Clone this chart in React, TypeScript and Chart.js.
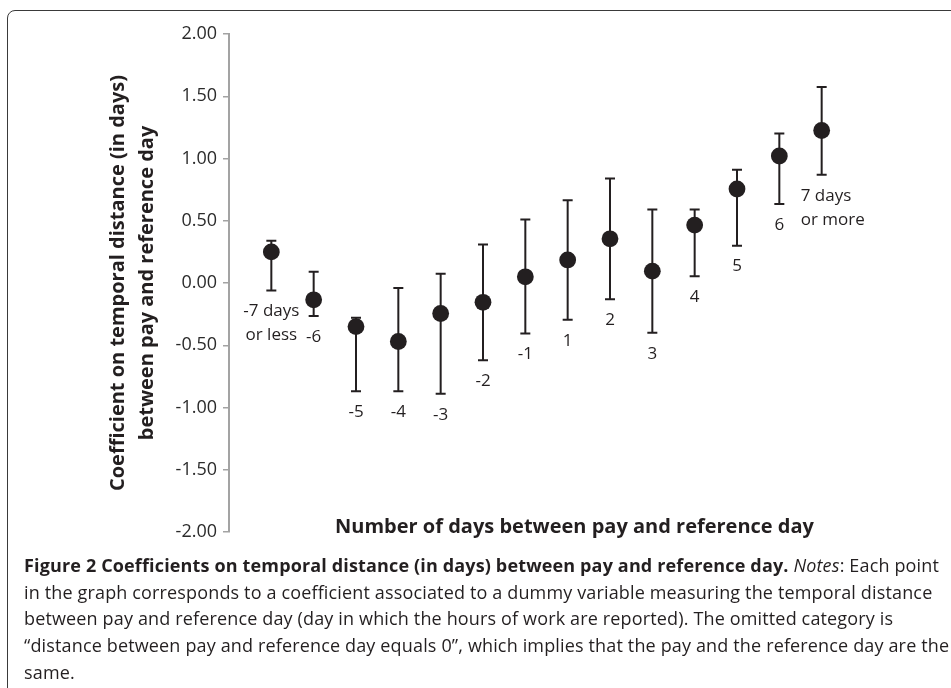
import React, { useEffect, useRef } from "react";
import { Chart, registerables } from "chart.js";

Chart.register(...registerables);

// ---- Data ----
const categories: string[] = [
  "-7 days\nor less", "-6", "-5", "-4", "-3", "-2", "-1",
  "1", "2", "3", "4", "5", "6", "7 days\nor more",
];
const coefficients: number[] = [
  0.25, -0.135, -0.35, -0.47, -0.245, -0.155, 0.05,
  0.185, 0.355, 0.095, 0.465, 0.755, 1.02, 1.225,
];
const upperBounds: number[] = [
  0.34, 0.09, -0.28, -0.04, 0.075, 0.31, 0.51,
  0.665, 0.84, 0.59, 0.59, 0.91, 1.2, 1.575,
];
const lowerBounds: number[] = [
  -0.06, -0.265, -0.87, -0.87, -0.89, -0.62, -0.405,
  -0.295, -0.13, -0.4, 0.055, 0.3, 0.635, 0.87,
];
const yTickValues: number[] = [-2, -1.5, -1, -0.5, 0, 0.5, 1, 1.5, 2];

const yTitleLines: string[] = [
  "Coefficient on temporal distance (in days)",
  "between pay and reference day",
];
const xTitle = "Number of days between pay and reference day";

const INK = "#231f20";
const FONT = "'Open Sans', 'DejaVu Sans', sans-serif";

const annotatePlugin = {
  id: "annotate",
  beforeDatasetsDraw(chart: any) {
    const { ctx, scales } = chart;
    const x = scales.x;
    const y = scales.y;
    ctx.save();
    ctx.strokeStyle = INK;
    ctx.lineWidth = 2;
    coefficients.forEach((_, i) => {
      const px = x.getPixelForValue(i + 1);
      const top = y.getPixelForValue(upperBounds[i]);
      const bot = y.getPixelForValue(lowerBounds[i]);
      ctx.beginPath();
      ctx.moveTo(px, top);
      ctx.lineTo(px, bot);
      ctx.moveTo(px - 5, top);
      ctx.lineTo(px + 5, top);
      ctx.moveTo(px - 5, bot);
      ctx.lineTo(px + 5, bot);
      ctx.stroke();
    });
    ctx.restore();
  },
  afterDatasetsDraw(chart: any) {
    const { ctx, scales, chartArea } = chart;
    const x = scales.x;
    const y = scales.y;
    ctx.save();
    ctx.fillStyle = INK;
    ctx.textBaseline = "middle";
    ctx.font = `17px ${FONT}`;
    categories.forEach((label, i) => {
      const px = x.getPixelForValue(i + 1);
      const bot = y.getPixelForValue(lowerBounds[i]);
      const lines = label.split("\n");
      const last = i === categories.length - 1 && lines.length > 1;
      ctx.textAlign = last ? "left" : "center";
      const lx = last ? px - 21 : px;
      lines.forEach((ln, j) => {
        ctx.fillText(ln, lx, bot + 21 + j * 24);
      });
    });

    // y-axis title (two rotated lines)
    const cy = (chartArea.top + chartArea.bottom) / 2;
    ctx.font = `bold 20px ${FONT}`;
    ctx.textAlign = "center";
    const offsets = [-111, -82];
    yTitleLines.forEach((ln, j) => {
      ctx.save();
      ctx.translate(chartArea.left + offsets[j], cy);
      ctx.rotate(-Math.PI / 2);
      ctx.fillText(ln, 0, 0);
      ctx.restore();
    });

    // x-axis title
    ctx.font = `bold 20px ${FONT}`;
    ctx.fillText(xTitle, (chartArea.left + chartArea.right) / 2 + 28, chartArea.bottom - 5);
    ctx.restore();
  },
};

function ChartCanvas() {
  const ref = useRef<HTMLCanvasElement | null>(null);
  useEffect(() => {
    if (!ref.current) return;
    const chart = new Chart(ref.current, {
      type: "scatter",
      data: {
        datasets: [
          {
            label: "Coefficient",
            data: coefficients.map((v, i) => ({ x: i + 1, y: v })),
            backgroundColor: INK,
            borderColor: INK,
            borderWidth: 0,
            pointRadius: 8.4,
            pointHoverRadius: 8.4,
            showLine: false,
          },
        ],
      },
      options: {
        animation: false,
        responsive: false,
        events: [],
        layout: { padding: { top: 34, bottom: 28, left: 0, right: 87 } },
        plugins: {
          legend: { display: false },
          tooltip: { enabled: false },
          title: { display: false },
        },
        scales: {
          x: { type: "linear", min: 0, max: 15, display: false },
          y: {
            type: "linear",
            min: -2,
            max: 2,
            afterBuildTicks: (scale: any) => {
              scale.ticks = yTickValues.map((v) => ({ value: v }));
            },
            afterFit: (scale: any) => {
              scale.width = 229;
            },
            ticks: {
              callback: (v: any) => Number(v).toFixed(2),
              font: { family: FONT, size: 18 },
              color: "#2b2b2b",
              padding: 6,
            },
            grid: {
              drawOnChartArea: false,
              drawTicks: true,
              tickLength: 6,
              color: "#a3a3a3",
              lineWidth: 1.5,
            },
            border: { display: true, color: "#a3a3a3", width: 2 },
          },
        },
      },
      plugins: [annotatePlugin],
    });
    return () => chart.destroy();
  }, []);
  return (
    <canvas
      ref={ref}
      width={951}
      height={560}
      style={{ position: "absolute", left: 0, top: 0, width: 951, height: 560, display: "block" }}
    />
  );
}

export default function App() {
  return (
    <div
      style={{
        position: "fixed",
        left: 0,
        top: 0,
        width: 951,
        height: 688,
        overflow: "hidden",
        background: "#fff",
      }}
    >
      <div
        style={{
          position: "absolute",
          left: 7,
          top: 10,
          width: 1000,
          height: 800,
          border: "1.5px solid #3a3a3a",
          borderRadius: 8,
          boxSizing: "border-box",
        }}
      />
      <ChartCanvas />
      <div
        style={{
          position: "absolute",
          left: 24,
          top: 552,
          fontFamily: FONT,
          fontSize: 18,
          letterSpacing: "0.15px",
          lineHeight: "26.7px",
          color: INK,
          whiteSpace: "nowrap",
        }}
      >
        <div>
          <b>Figure 2 Coefficients on temporal distance (in days) between pay and reference day.</b>{" "}
          <i>Notes</i>: Each point
        </div>
        <div>in the graph corresponds to a coefficient associated to a dummy variable measuring the temporal distance</div>
        <div>between pay and reference day (day in which the hours of work are reported). The omitted category is</div>
        <div>“distance between pay and reference day equals 0”, which implies that the pay and the reference day are the</div>
        <div>same.</div>
      </div>
    </div>
  );
}
